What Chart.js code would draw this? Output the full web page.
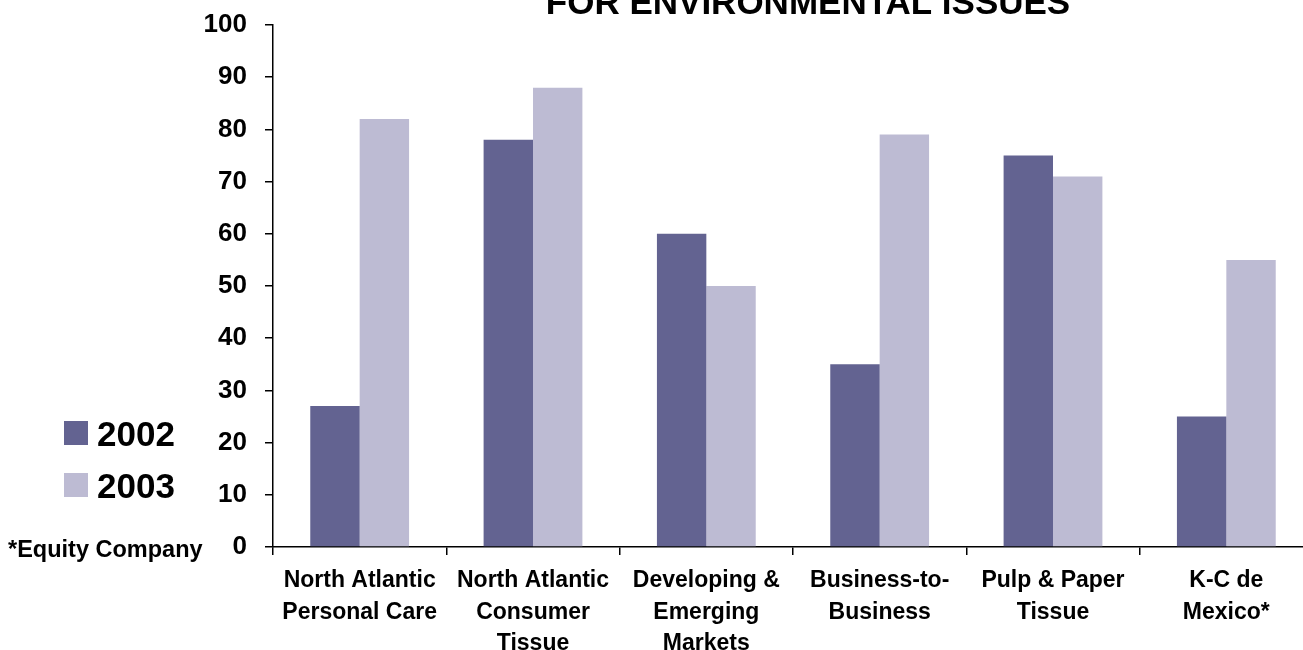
<!DOCTYPE html>
<html>
<head>
<meta charset="utf-8">
<script src="https://cdn.jsdelivr.net/npm/chart.js@4/dist/chart.umd.min.js"></script>
<style>
  html, body { margin: 0; padding: 0; background: #ffffff; overflow: hidden; }
  #wrap { position: relative; width: 1313px; height: 650px; }
</style>
</head>
<body>
<div id="wrap"><canvas id="chart"></canvas></div>
<script>
// Business units and their scores per year
const categories = [
  ['North Atlantic', 'Personal Care'],
  ['North Atlantic', 'Consumer', 'Tissue'],
  ['Developing &', 'Emerging', 'Markets'],
  ['Business-to-', 'Business'],
  ['Pulp & Paper', 'Tissue'],
  ['K-C de', 'Mexico*']
];
const values2002 = [27, 78, 60, 35, 75, 25];
const values2003 = [82, 88, 50, 79, 71, 55];
const seriesLabels = ['2002', '2003'];
const seriesColors = ['#636391', '#bdbbd3'];
const titleText = 'FOR ENVIRONMENTAL ISSUES';
const footnoteText = '*Equity Company';

const FONT = '"Liberation Sans", Arial, sans-serif';

// Title, legend and footnote drawn on the canvas
const sidePanel = {
  id: 'sidePanel',
  afterDraw(chart) {
    const ctx = chart.ctx;
    ctx.save();
    ctx.fillStyle = '#000000';
    ctx.textBaseline = 'alphabetic';

    ctx.font = 'bold 35px ' + FONT;
    ctx.textAlign = 'center';
    ctx.fillText(titleText, 808, 14);

    ctx.textAlign = 'left';
    chart.data.datasets.forEach((ds, i) => {
      const y = 421 + i * 52;
      ctx.fillStyle = ds.backgroundColor;
      ctx.fillRect(64, y, 24, 24);
      ctx.fillStyle = '#000000';
      ctx.font = 'bold 35px ' + FONT;
      ctx.fillText(ds.label, 97, y + 25);
    });

    ctx.font = 'bold 23.5px ' + FONT;
    ctx.fillText(footnoteText, 8, 557);
    ctx.restore();
  }
};

new Chart(document.getElementById('chart'), {
  type: 'bar',
  data: {
    labels: categories,
    datasets: [
      { label: seriesLabels[0], data: values2002, backgroundColor: seriesColors[0] },
      { label: seriesLabels[1], data: values2003, backgroundColor: seriesColors[1] }
    ]
  },
  options: {
    responsive: true,
    maintainAspectRatio: false,
    animation: false,
    layout: { padding: { top: 25, right: 0, bottom: 0, left: 0 } },
    datasets: { bar: { categoryPercentage: 0.57, barPercentage: 1.0 } },
    plugins: {
      legend: { display: false },
      title: { display: false },
      tooltip: { enabled: false }
    },
    scales: {
      x: {
        offset: true,
        border: { display: true, color: '#000000', width: 1.5 },
        grid: { offset: true, drawOnChartArea: false, drawTicks: true, tickLength: 8, color: '#000000', lineWidth: 1.5 },
        ticks: {
          color: '#000000',
          font: { family: FONT, size: 23, weight: 'bold', lineHeight: 1.37 },
          padding: 10,
          maxRotation: 0,
          autoSkip: false
        },
        afterFit(scale) { scale.height = 103; }
      },
      y: {
        min: 0,
        max: 100,
        border: { display: true, color: '#000000', width: 1.5 },
        grid: { drawOnChartArea: false, drawTicks: true, tickLength: 8, color: '#000000', lineWidth: 1.5 },
        ticks: {
          stepSize: 10,
          color: '#000000',
          font: { family: FONT, size: 26, weight: 'bold' },
          padding: 18
        },
        afterFit(scale) {
          scale.width = 273;
          scale.paddingTop = 0;
        }
      }
    }
  },
  plugins: [sidePanel]
});
</script>
</body>
</html>
